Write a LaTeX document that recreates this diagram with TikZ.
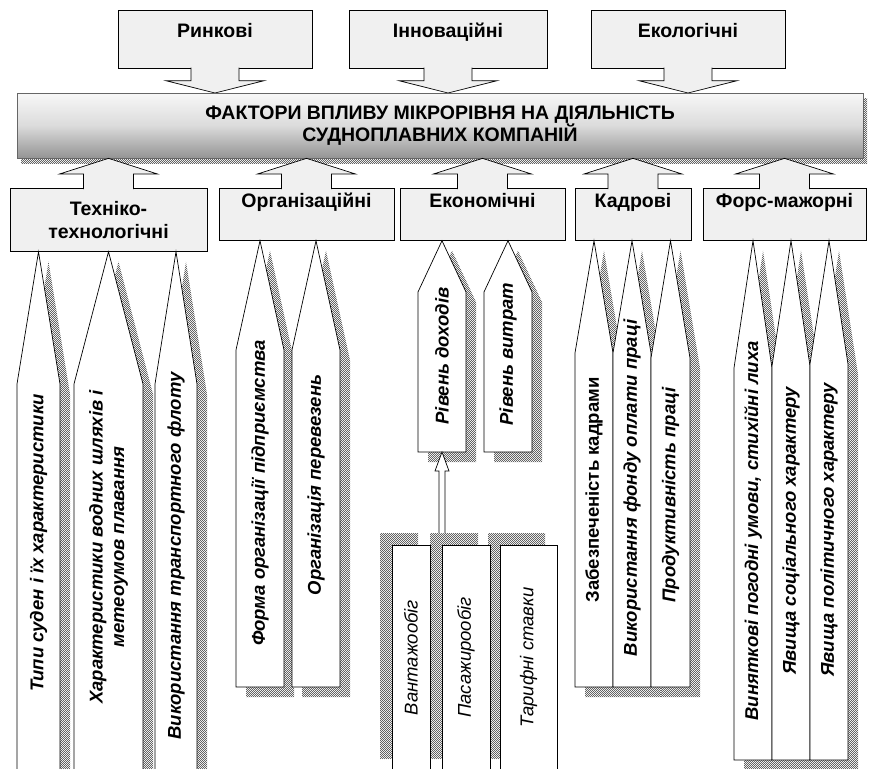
\documentclass[tikz,border=0pt]{standalone}
\usepackage{fontspec}
\setmainfont{Liberation Sans}
\usetikzlibrary{calc,patterns,positioning}

\definecolor{boxgray}{RGB}{240,240,240}
\definecolor{checkgray}{RGB}{100,100,100}

% fine chequered shadow
\pgfdeclarepatternformonly{chequer}{\pgfpointorigin}{\pgfpoint{2.4pt}{2.4pt}}{\pgfpoint{2.4pt}{2.4pt}}{%
  \pgfpathrectangle{\pgfpointorigin}{\pgfpoint{1.2pt}{1.2pt}}%
  \pgfpathrectangle{\pgfpoint{1.2pt}{1.2pt}}{\pgfpoint{1.2pt}{1.2pt}}%
  \pgfusepath{fill}}

\tikzset{
  shadowed/.style 2 args={preaction={pattern=chequer, pattern color=checkgray,
      transform canvas={xshift=#1, yshift=#2}}},
  labelfont/.style={font=\fontsize{19.5}{22.5}\selectfont\bfseries},
  boldit/.style={font=\fontsize{18.5}{21.5}\selectfont\bfseries\itshape},
  boldup/.style={font=\fontsize{18.5}{21.5}\selectfont\bfseries},
  plainit/.style={font=\fontsize{18.5}{21.5}\selectfont\itshape},
  topbox/.style={draw, fill=boxgray, line width=0.7pt, labelfont, anchor=north,
      minimum width=194, inner ysep=4pt, text height=23pt, text depth=27pt},
  catbox/.style={draw, fill=boxgray, line width=0.7pt, labelfont, anchor=north, align=center},
  uptext/.style={inner ysep=4pt, text height=15pt, text depth=29pt},
  blockarrow/.style={draw, fill=boxgray, line width=0.7pt},
  hollowarrow/.style={draw, fill=white, line width=0.7pt},
  colbox/.style={draw, fill=white, line width=0.7pt, shadowed={10pt}{-10pt}},
  coltext/.style={rotate=90, align=center, inner sep=0pt},
  groupbox/.style={draw, fill=white, line width=0.7pt, rotate=90, minimum width=225,
      inner sep=0pt, plainit, shadowed={-12pt}{12pt}},
}

% pointed column under a factor box:
% name, left, right, box, shoulder, bottom, text y, text style, text
\newcommand{\factorcol}[9]{%
  \coordinate (#1-tip) at ({(#2+#3)/2},0 |- #4.south);
  \coordinate (#1-base) at ({(#2+#3)/2},#6);
  \draw[colbox] (#2,#6) -- (#2,#5) -- (#1-tip) -- (#3,#5) -- (#3,#6) -- cycle;
  \node[coltext, #8] (#1) at ({(#2+#3)/2},#7) {#9};
}

\begin{document}
\begin{tikzpicture}[x=1pt, y=-1pt]
\useasboundingbox (0,0) rectangle (871,769);
\clip (0,0) rectangle (871,769);

% outer factors
\node[topbox] (market) at (215,10) {Ринкові};
\node[topbox, minimum width=198] (innov) at (448,10) {Інноваційні};
\node[topbox] (ecol) at (688,10) {Екологічні};

\draw[blockarrow] ($(market.south)+(-24,-1)$) -- ++(0,13) -- ++(-25,0) -- (market.south |- 0,93)
    -- ($(market.south)+(49,12)$) -- ++(-25,0) -- ++(0,-13);
\draw[blockarrow] ($(innov.south)+(-24,-1)$) -- ++(0,13) -- ++(-25,0) -- (innov.south |- 0,93)
    -- ($(innov.south)+(49,12)$) -- ++(-25,0) -- ++(0,-13);
\draw[blockarrow] ($(ecol.south)+(-24,-1)$) -- ++(0,13) -- ++(-25,0) -- (ecol.south |- 0,93)
    -- ($(ecol.south)+(49,12)$) -- ++(-25,0) -- ++(0,-13);

% main banner
\node[draw=black!60, line width=0.7pt, top color=black!3, bottom color=black!42, middle color=black!14,
    minimum width=846, minimum height=65, inner sep=0pt, align=center, labelfont,
    shadowed={4pt}{-5pt}] (banner) at (440,125.5)
    {ФАКТОРИ ВПЛИВУ МІКРОРІВНЯ НА ДІЯЛЬНІСТЬ\\СУДНОПЛАВНИХ КОМПАНІЙ};

% micro-level groups
\node[catbox, minimum width=197, minimum height=63] (tech) at (108.5,188) {Техніко-\\технологічні};
\node[catbox, uptext, minimum width=175] (org) at (306.5,188) {Організаційні};
\node[catbox, uptext, minimum width=165] (econ) at (482.5,188) {Економічні};
\node[catbox, uptext, minimum width=116] (staff) at (633,188) {Кадрові};
\node[catbox, uptext, minimum width=163] (force) at (784.5,188) {Форс-мажорні};

\draw[blockarrow] ($(tech.north)+(-25,1)$) -- ++(0,-15) -- ++(-24,0) -- (tech.north |- banner.south)
    -- ($(tech.north)+(49,-14)$) -- ++(-24,0) -- ++(0,15);
\draw[blockarrow] ($(org.north)+(-25,1)$) -- ++(0,-15) -- ++(-24,0) -- (org.north |- banner.south)
    -- ($(org.north)+(49,-14)$) -- ++(-24,0) -- ++(0,15);
\draw[blockarrow] ($(econ.north)+(-25,1)$) -- ++(0,-15) -- ++(-24,0) -- (econ.north |- banner.south)
    -- ($(econ.north)+(49,-14)$) -- ++(-24,0) -- ++(0,15);
\draw[blockarrow] ($(staff.north)+(-25,1)$) -- ++(0,-15) -- ++(-24,0) -- (staff.north |- banner.south)
    -- ($(staff.north)+(49,-14)$) -- ++(-24,0) -- ++(0,15);
\draw[blockarrow] ($(force.north)+(-25,1)$) -- ++(0,-15) -- ++(-24,0) -- (force.north |- banner.south)
    -- ($(force.north)+(49,-14)$) -- ++(-24,0) -- ++(0,15);

% technical and technological
\factorcol{types}{17}{60}{tech}{384}{790}{543}{boldit}{Типи суден і їх характеристики}
\factorcol{waterways}{74}{143}{tech}{384}{790}{547}{boldit}{Характеристики водних шляхів і\\метеоумов плавання}
\factorcol{fleet}{155}{197}{tech}{384}{790}{556}{boldit}{Використання транспортного флоту}

% organisational
\factorcol{form}{236}{284}{org}{350}{687}{493}{boldit}{Форма організації підприємства}
\factorcol{carriage}{292}{340}{org}{350}{687}{485}{boldit}{Організація перевезень}

% economic
\factorcol{income}{418}{466}{econ}{292}{452}{356}{boldit}{Рівень доходів}
\factorcol{costs}{484}{532}{econ}{292}{452}{354}{boldit}{Рівень витрат}

\node[groupbox, minimum height=57] (tariff) at (528.5,657.5) {Тарифні ставки};
\node[groupbox, minimum height=48] (passenger) at (466,657.5) {Пасажирообіг};
\node[groupbox, minimum height=38] (cargo) at (411,657.5) {Вантажообіг};
\coordinate (group-top) at (442,533);

\draw[hollowarrow] ($(group-top)+(-3,0)$) -- ($(income-base)+(-3,19)$) -- ++(-4,0) -- (income-base)
    -- ($(income-base)+(7,19)$) -- ++(-4,0) -- ($(group-top)+(3,0)$);

% staff
\factorcol{staffing}{575}{613}{staff}{353}{687}{490}{boldup}{Забезпеченість кадрами}
\factorcol{wages}{613}{651}{staff}{353}{687}{488}{boldit}{Використання фонду оплати праці}
\factorcol{output}{651}{690}{staff}{358}{687}{495}{boldit}{Продуктивність праці}

% force majeure
\factorcol{weather}{734}{772}{force}{368}{760}{531}{boldit}{Виняткові погодні умови, стихійні лиха}
\factorcol{social}{772}{810}{force}{366}{760}{531}{boldit}{Явища соціального характеру}
\factorcol{political}{810}{848}{force}{364}{760}{530}{boldit}{Явища політичного характеру}
\end{tikzpicture}
\end{document}
